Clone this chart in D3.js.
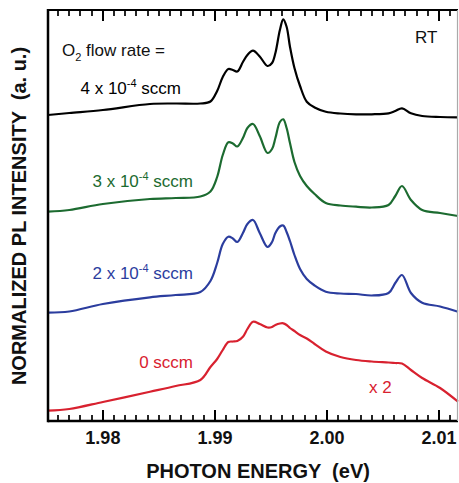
<!DOCTYPE html>
<html>
<head>
<meta charset="utf-8">
<script src="https://cdn.jsdelivr.net/npm/d3@7"></script>
<style>
  html, body { margin: 0; padding: 0; background: #fff; }
  svg text { font-family: "Liberation Sans", Arial, Helvetica, sans-serif; }
</style>
</head>
<body>
<svg id="chart" width="459" height="483"></svg>
<script>
// ---- data ----
const energy = [1.9751, 1.9770, 1.9800, 1.9842, 1.9865, 1.9887, 1.9896, 1.9902, 1.9907, 1.9912,
  1.9916, 1.9920, 1.9925, 1.9929, 1.9934, 1.9940, 1.9947, 1.9951, 1.9954, 1.9958,
  1.9961, 1.9964, 1.9967, 1.9971, 1.9976, 1.9982, 1.9989, 1.9999, 2.0012, 2.0026,
  2.0040, 2.0055, 2.0061, 2.0067, 2.0075, 2.0085, 2.0101, 2.0117];

const flow4 = [3.06, 3.08, 3.11, 3.17, 3.175, 3.175, 3.195, 3.30, 3.44, 3.52,
  3.51, 3.495, 3.59, 3.66, 3.703, 3.645, 3.55, 3.58, 3.68, 3.91,
  4.017, 3.943, 3.743, 3.53, 3.35, 3.193, 3.135, 3.093, 3.075, 3.067,
  3.067, 3.077, 3.10, 3.127, 3.077, 3.05, 3.04, 3.037];

const flow3 = [2.093, 2.11, 2.17, 2.22, 2.23, 2.245, 2.295, 2.44, 2.66, 2.787,
  2.775, 2.745, 2.83, 2.93, 2.97, 2.85, 2.68, 2.72, 2.83, 2.99,
  3.017, 2.93, 2.78, 2.59, 2.45, 2.35, 2.27, 2.18, 2.155, 2.143,
  2.135, 2.16, 2.25, 2.35, 2.21, 2.11, 2.08, 2.05];

const flow2 = [1.083, 1.095, 1.17, 1.237, 1.26, 1.29, 1.40, 1.58, 1.77, 1.843,
  1.825, 1.79, 1.88, 1.97, 2.01, 1.88, 1.74, 1.79, 1.88, 1.945,
  1.955, 1.89, 1.80, 1.66, 1.52, 1.42, 1.355, 1.293, 1.275, 1.27,
  1.255, 1.28, 1.38, 1.46, 1.28, 1.183, 1.145, 1.093];

const flow0 = [0.103, 0.12, 0.19, 0.293, 0.35, 0.41, 0.54, 0.62, 0.71, 0.79,
  0.795, 0.80, 0.843, 0.92, 0.993, 0.97, 0.935, 0.94, 0.96, 0.975,
  0.977, 0.96, 0.93, 0.90, 0.86, 0.825, 0.77, 0.695, 0.64, 0.61,
  0.595, 0.585, 0.58, 0.575, 0.51, 0.43, 0.33, 0.193];

const seriesNames = ["4 x 10-4 sccm", "3 x 10-4 sccm", "2 x 10-4 sccm", "0 sccm"];
const xTickValues = [1.98, 1.99, 2.00, 2.01];
const xTickLabels = ["1.98", "1.99", "2.00", "2.01"];

// ---- layout ----
const svg = d3.select("#chart");
const L = 48, R = 458, T = 10, B = 421;
const x = d3.scaleLinear().domain([1.9751, 2.0117]).range([L, R]);
const y = d3.scaleLinear().domain([0, 4.11]).range([B, T]);

const colors = ["#000000", "#1c6b30", "#2b3d9e", "#d8212f"];
const allSeries = [flow4, flow3, flow2, flow0];

// curves
const line = d3.line()
  .x((d, i) => x(energy[i]))
  .y(d => y(d))
  .curve(d3.curveCatmullRom.alpha(0.5));

svg.append("g").selectAll("path")
  .data(allSeries)
  .join("path")
  .attr("d", d => line(d))
  .attr("fill", "none")
  .attr("stroke", (d, i) => colors[i])
  .attr("stroke-width", 2.2)
  .attr("stroke-linejoin", "round");

// ticks (inward, top and bottom), through the x scale
const tickVals = d3.range(1976, 2012).map(v => v / 1000);
const isMajor = v => Math.abs(v * 100 - Math.round(v * 100)) < 1e-6;
let minorPath = "", majorPath = "";
tickVals.forEach(v => {
  const px = Math.round(x(v));
  if (isMajor(v)) majorPath += `M${px},${B}V${B - 11}M${px},${T}V${T + 11}`;
  else minorPath += `M${px},${B}V${B - 6}M${px},${T}V${T + 6}`;
});
svg.append("path").attr("d", minorPath).attr("fill", "none")
  .attr("stroke", "#000").attr("stroke-width", 1.7);
svg.append("path").attr("d", majorPath).attr("fill", "none")
  .attr("stroke", "#000").attr("stroke-width", 2);

// tick labels
svg.append("g").selectAll("text").data(xTickValues).join("text")
  .attr("x", d => x(d)).attr("y", 444)
  .attr("text-anchor", "middle")
  .attr("font-size", 18).attr("font-weight", "bold").attr("fill", "#111")
  .text((d, i) => xTickLabels[i]);

// frame
svg.append("path").attr("d", `M${L},${T}H${R}`).attr("stroke", "#000").attr("stroke-width", 2);
svg.append("path").attr("d", `M${L},${B}H${R}`).attr("stroke", "#000").attr("stroke-width", 2.5);
svg.append("path").attr("d", `M${L},${T - 1}V${B + 1.2}`).attr("stroke", "#000").attr("stroke-width", 2.5);
svg.append("path").attr("d", `M${R - 0.5},${T}V${B}`).attr("stroke", "#aaa").attr("stroke-width", 1.2);

// axis titles
svg.append("text")
  .attr("transform", `translate(26,216) rotate(-90)`)
  .attr("text-anchor", "middle")
  .attr("font-size", 20).attr("font-weight", "bold").attr("fill", "#111")
  .style("white-space", "pre")
  .text("NORMALIZED PL INTENSITY  (a. u.)");
svg.append("text")
  .attr("x", 258).attr("y", 478)
  .attr("text-anchor", "middle")
  .attr("font-size", 20).attr("font-weight", "bold").attr("fill", "#111")
  .style("white-space", "pre")
  .text("PHOTON ENERGY  (eV)");

// annotations
const fs = 17;
const t0 = svg.append("text").attr("x", 62).attr("y", 56).attr("font-size", fs).attr("fill", "#111");
t0.append("tspan").text("O");
t0.append("tspan").attr("font-size", 11).attr("dy", 5).text("2");
t0.append("tspan").attr("dy", -5).text(" flow rate =");

function flowLabel(xEnd, yBase, main, color) {
  const t = svg.append("text").attr("x", xEnd).attr("y", yBase)
    .attr("text-anchor", "end").attr("font-size", fs).attr("fill", color);
  t.append("tspan").text(main + " x 10");
  t.append("tspan").attr("font-size", 11).attr("dy", -7).text("-4");
  t.append("tspan").attr("dy", 7).text(" sccm");
}
flowLabel(181, 94, "4", colors[0]);
flowLabel(193, 187, "3", colors[1]);
flowLabel(193, 279, "2", colors[2]);
svg.append("text").attr("x", 193).attr("y", 368).attr("text-anchor", "end")
  .attr("font-size", fs).attr("fill", colors[3]).text(seriesNames[3]);
svg.append("text").attr("x", 369).attr("y", 393)
  .attr("font-size", fs).attr("fill", colors[3]).text("x 2");
svg.append("text").attr("x", 415).attr("y", 43)
  .attr("font-size", fs).attr("fill", "#111").text("RT");
</script>
</body>
</html>
